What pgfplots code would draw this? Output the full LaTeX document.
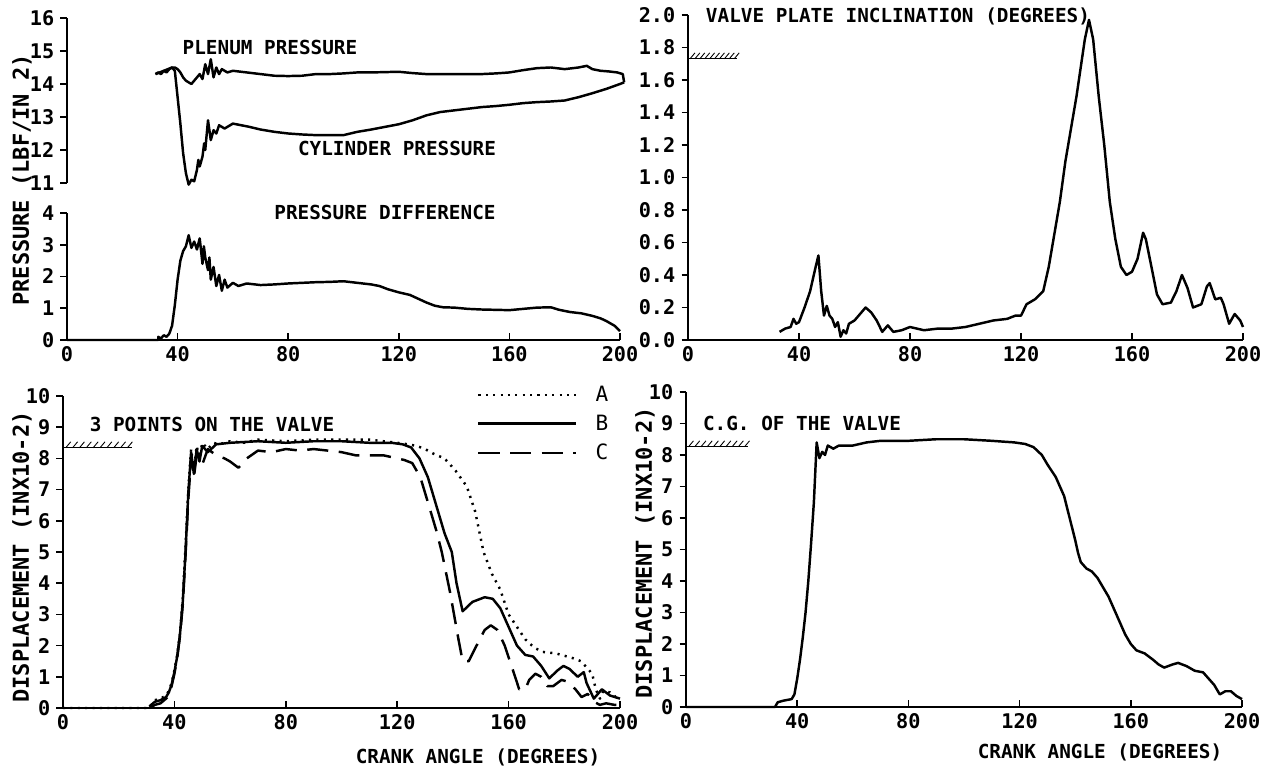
\documentclass[border=0pt]{standalone}
\usepackage{fontspec}
\setmainfont{DejaVu Sans Mono}
\usepackage{pgfplots}
\pgfplotsset{compat=1.18}
\usetikzlibrary{calc}

\pgfplotsset{
  panel/.style={
    scale only axis,
    axis lines=left,
    axis line style={-, line width=1.1pt},
    xmin=0, xmax=200,
    xtick={0,40,...,200},
    tick style={black, line width=1pt},
    major tick length=0.13cm,
    xtick align=inside,
    ytick align=outside,
    tick label style={font=\fontsize{11.5}{12}\selectfont\bfseries},
    /pgf/number format/assume math mode=true,
    clip=false,
  },
  curve/.style={black, line width=1.4pt, line join=round},
}
\newcommand{\lbl}{\fontsize{11}{12}\selectfont\bfseries}
\newcommand{\ylbl}{\fontsize{12.5}{14}\selectfont\bfseries}

\begin{document}
\begin{tikzpicture}
\useasboundingbox (0,0) rectangle (25.34,15.42);

%-- top left, upper: plenum and cylinder pressure
\begin{axis}[panel, at={(1.34cm,11.76cm)}, anchor=south west,
  width=11.06cm, height=3.30cm,
  axis x line=none, ymin=11, ymax=16, ytick={11,...,16}]
\addplot[curve] coordinates {
 (32,14.3)(33,14.35)(34,14.3)(35,14.4)(36,14.35)(37,14.45)(38,14.5)(39,14.5)
 (40,14.45)(41,14.35)(42,14.2)(43,14.1)(44,14.05)(45,14.0)(46,14.1)(47,14.2)
 (48,14.3)(49,14.15)(50,14.6)(51,14.3)(52,14.75)(53,14.2)(54,14.5)(55,14.3)
 (56,14.45)(58,14.35)(60,14.4)(65,14.35)(70,14.3)(75,14.25)(80,14.24)(85,14.25)
 (90,14.3)(95,14.3)(100,14.32)(105,14.35)(110,14.35)(115,14.36)(120,14.37)
 (125,14.33)(130,14.3)(135,14.3)(140,14.3)(145,14.3)(150,14.3)(155,14.32)
 (160,14.35)(165,14.42)(170,14.48)(175,14.5)(180,14.45)(185,14.5)(188,14.55)
 (190,14.45)(193,14.4)(196,14.38)(199,14.35)(201,14.3)(201.5,14.05)
};
\addplot[curve] coordinates {
 (32,14.3)(35,14.4)(38,14.5)(39,14.4)(40,13.6)(41,12.8)(42,11.9)(43,11.3)
 (44,10.95)(45,11.1)(46,11.05)(47,11.4)(47.5,11.7)(48,11.5)(49,11.8)(49.6,12.2)
 (50,12.0)(51,12.9)(52,12.3)(53,12.6)(54,12.5)(55,12.75)(57,12.65)(60,12.8)
 (63,12.75)(66,12.7)(70,12.62)(75,12.55)(80,12.5)(85,12.47)(90,12.45)
 (95,12.45)(100,12.45)(105,12.55)(110,12.62)(115,12.7)(120,12.78)(125,12.9)
 (130,13.05)(135,13.15)(140,13.2)(145,13.25)(150,13.3)(155,13.33)(160,13.37)
 (165,13.42)(170,13.45)(175,13.47)(180,13.5)(185,13.6)(190,13.72)(195,13.85)
 (200,14.0)(201.5,14.05)
};
\end{axis}

%-- top left, lower: pressure difference
\begin{axis}[panel, at={(1.34cm,8.62cm)}, anchor=south west,
  width=11.06cm, height=2.54cm,
  ymin=0, ymax=4, ytick={0,...,4}]
\addplot[curve] coordinates {
 (0,0)(33,0)(33,0.1)(34,0.05)(35,0.15)(36,0.1)(37,0.2)(38,0.45)(39,1.1)
 (40,1.9)(41,2.5)(42,2.8)(43,2.95)(44,3.3)(45,2.9)(46,3.1)(47,2.85)(48,3.2)
 (49,2.4)(49.5,2.95)(50,2.6)(51,2.2)(51.5,2.6)(52,1.9)(53,2.3)(54,1.7)
 (55,2.05)(56,1.55)(57,1.9)(58,1.65)(60,1.8)(62,1.7)(65,1.78)(70,1.73)
 (75,1.75)(80,1.78)(85,1.8)(90,1.82)(95,1.83)(100,1.85)(105,1.8)(110,1.75)
 (113,1.7)(116,1.6)(120,1.5)(124,1.42)(127,1.3)(130,1.18)(133,1.08)
 (136,1.03)(140,1.02)(145,0.98)(150,0.96)(155,0.95)(160,0.94)(165,0.98)
 (170,1.02)(175,1.03)(178,0.95)(182,0.88)(186,0.84)(190,0.76)(193,0.68)
 (195,0.6)(198,0.45)(200,0.28)
};
\end{axis}

%-- top right: valve plate inclination
\begin{axis}[panel, at={(13.76cm,8.62cm)}, anchor=south west,
  width=11.10cm, height=6.50cm,
  ymin=0, ymax=2, ytick={0,0.2,...,2.01},
  yticklabel style={/pgf/number format/.cd, fixed, fixed zerofill, precision=1}]
\addplot[curve] coordinates {
 (33,0.05)(35,0.07)(37,0.08)(38,0.13)(39,0.1)(40,0.11)(42,0.2)(44,0.3)
 (46,0.45)(47,0.52)(48,0.3)(49,0.15)(50,0.21)(51,0.15)(52,0.13)(53,0.08)
 (54,0.11)(55,0.02)(56,0.06)(57,0.04)(58,0.1)(60,0.12)(62,0.16)(64,0.2)
 (66,0.17)(68,0.12)(70,0.05)(72,0.09)(74,0.05)(77,0.06)(80,0.08)(85,0.06)
 (90,0.07)(95,0.07)(100,0.08)(105,0.1)(110,0.12)(115,0.13)(118,0.15)
 (120,0.15)(122,0.22)(125,0.25)(128,0.3)(130,0.45)(132,0.65)(134,0.85)
 (136,1.1)(140,1.5)(143,1.85)(144.5,1.97)(146,1.85)(148,1.5)(150,1.2)
 (152,0.85)(154,0.62)(156,0.45)(158,0.4)(160,0.42)(162,0.5)(164,0.66)
 (165,0.62)(167,0.45)(169,0.28)(171,0.22)(174,0.23)(176,0.3)(178,0.4)
 (180,0.32)(182,0.2)(185,0.22)(187,0.33)(188,0.35)(190,0.25)(192,0.26)
 (193,0.22)(195,0.1)(197,0.16)(199,0.12)(200,0.08)
};
\coordinate (hA) at (axis cs:0,1.73);
\coordinate (hB) at (axis cs:17.7,1.73);
\end{axis}

%-- bottom left: three points on the valve
\begin{axis}[panel, at={(1.26cm,1.26cm)}, anchor=south west,
  width=11.14cm, height=6.24cm,
  ymin=0, ymax=10, ytick={0,...,10},
  legend style={draw=none, fill=none, at={(0.743,1.045)}, anchor=north west,
    font=\fontsize{12}{13}\selectfont, row sep=2.2pt, inner sep=0pt},
  legend cell align=left,
  legend image code/.code={\draw[#1] (0cm,0cm) -- (1.96cm,0cm); \path (2.25cm,0cm);}]
\addplot[curve, dash pattern=on 1.2pt off 3pt] coordinates {
 (0,0)(31,0)(33,0.25)(35,0.3)(37,0.4)(38,0.55)(39,0.8)(40,1.2)(41,1.7)
 (42,2.4)(43,3.5)(44,5.2)(45,7.0)(46,8.3)(47,7.6)(48,8.4)(49,8.0)(50,8.5)
 (52,8.3)(54,8.5)(56,8.45)(60,8.55)(65,8.5)(70,8.6)(80,8.55)(90,8.6)
 (100,8.6)(110,8.6)(115,8.55)(120,8.5)(124,8.45)(127,8.4)(130,8.3)(133,8.15)
 (137,8.0)(141,7.6)(145,7.1)(148,6.3)(151,5.0)(154,4.3)(157,3.8)(160,3.0)
 (163,2.6)(166,2.2)(169,1.95)(172,1.8)(177,1.75)(183,1.6)(186,1.5)(188,1.3)
 (190,1.1)(191.3,0.6)(192.8,0.3)(194,0.55)(196.4,0.5)(198.5,0.35)(200,0.4)
};
\addlegendentry{A}
\addplot[curve] coordinates {
 (31,0.05)(33,0.2)(35,0.25)(37,0.35)(38,0.5)(39,0.75)(40,1.15)(41,1.65)
 (42,2.35)(43,3.4)(44,5.0)(45,6.9)(46,8.2)(47,7.5)(48,8.3)(49,7.9)(50,8.4)
 (52,8.2)(55,8.45)(60,8.5)(70,8.55)(80,8.5)(90,8.55)(100,8.55)(110,8.5)
 (118,8.5)(122,8.45)(125,8.35)(128,8.0)(131,7.4)(134,6.5)(137,5.6)
 (139.6,5.0)(141.3,4.0)(143.5,3.1)(147,3.4)(151.4,3.55)(154.3,3.5)(157,3.2)
 (160,2.6)(163,2.0)(166,1.7)(168.8,1.65)(171.7,1.35)(174.6,0.95)(177.5,1.2)
 (179.7,1.35)(181.9,1.25)(184.8,1.0)(187,1.15)(188,0.8)(190.6,0.3)
 (193.5,0.6)(196.4,0.4)(200,0.3)
};
\addlegendentry{B}
\addplot[curve, dash pattern=on 12pt off 6pt] coordinates {
 (31,0)(33,0.1)(35,0.15)(37,0.3)(38,0.4)(39,0.7)(40,1.1)(41,1.6)(42,2.3)
 (43,3.3)(44,4.9)(45,6.7)(46,8.0)(47,7.4)(48,8.1)(50,7.8)(52,8.3)(55,8.1)
 (58,8.0)(60,7.9)(63,7.7)(66,8.0)(70,8.25)(75,8.2)(80,8.3)(85,8.25)(90,8.3)
 (95,8.25)(100,8.2)(105,8.1)(110,8.1)(115,8.1)(120,8.0)(122.5,7.95)
 (125.4,7.85)(128.3,7.4)(131,6.6)(134,5.7)(136,5.0)(139,3.7)(142,2.2)
 (143.5,1.5)(145.7,1.5)(148.5,2.0)(151.4,2.5)(153.6,2.65)(156,2.5)
 (158.6,2.0)(161.6,1.2)(163.8,0.6)(166,0.6)(167.4,0.9)(169.6,1.1)
 (171.7,1.0)(173.9,0.7)(176,0.7)(179,0.9)(181,0.85)(184,0.6)(186.2,0.35)
 (188.4,0.45)(190.6,0.2)(192.8,0.1)(195,0.15)(198,0.1)(200,0.1)
};
\addlegendentry{C}
\coordinate (hC) at (axis cs:0,8.34);
\coordinate (hD) at (axis cs:24.6,8.34);
\end{axis}

%-- bottom right: C.G. of the valve
\begin{axis}[panel, at={(13.72cm,1.28cm)}, anchor=south west,
  width=11.12cm, height=6.30cm,
  ymin=0, ymax=10, ytick={0,...,10}]
\addplot[curve] coordinates {
 (0,0)(32,0)(33,0.15)(35,0.2)(38,0.25)(39,0.4)(40,0.9)(41,1.5)(42,2.2)
 (43,3.0)(44,4.0)(45,5.2)(46,6.5)(47,8.4)(48,7.9)(49,8.1)(50,8.0)(51,8.3)
 (53,8.2)(55,8.3)(60,8.3)(65,8.4)(70,8.45)(80,8.45)(90,8.5)(100,8.5)
 (110,8.45)(118,8.4)(122,8.35)(125,8.25)(128,8.0)(130,7.7)(133,7.3)
 (136,6.7)(138,6.0)(140,5.3)(141,4.9)(142,4.6)(144,4.4)(146,4.3)(148,4.1)
 (150,3.8)(152,3.5)(154,3.1)(156,2.7)(158,2.3)(160,2.0)(162,1.8)(165,1.7)
 (168,1.5)(170,1.35)(172,1.25)(175,1.35)(177,1.4)(180,1.3)(183,1.15)
 (186,1.1)(188,0.9)(190,0.7)(192,0.4)(194,0.5)(196,0.5)(198,0.35)(200,0.25)
};
\coordinate (hE) at (axis cs:0,8.26);
\coordinate (hF) at (axis cs:22.4,8.26);
\end{axis}

%-- valve stop marks
\foreach \s/\e in {hA/hB,hC/hD,hE/hF}{
  \draw[line width=0.5pt] (\s) -- (\e);
  \foreach \t in {0.04,0.14,...,0.95}
    \draw[line width=0.5pt] ($(\s)!\t!(\e)$) -- ++(0.1,0.12);
}

%-- texts
\node[font=\lbl] at (5.40,14.48) {PLENUM PRESSURE};
\node[font=\lbl] at (7.94,12.46) {CYLINDER PRESSURE};
\node[font=\lbl] at (7.70,11.18) {PRESSURE DIFFERENCE};
\node[font=\lbl] at (17.96,15.10) {VALVE PLATE INCLINATION (DEGREES)};
\node[font=\lbl] at (4.24,6.94) {3 POINTS ON THE VALVE};
\node[font=\lbl] at (16.04,6.96) {C.G. OF THE VALVE};
\node[font=\lbl] at (9.56,0.28) {CRANK ANGLE (DEGREES)};
\node[font=\lbl] at (22.00,0.38) {CRANK ANGLE (DEGREES)};
\node[font=\ylbl, rotate=90] at (0.44,11.82) {PRESSURE (LBF/IN 2)};
\node[font=\ylbl, rotate=90] at (0.44,4.28) {DISPLACEMENT (INX10-2)};
\node[font=\ylbl, rotate=90] at (12.90,4.36) {DISPLACEMENT (INX10-2)};
\end{tikzpicture}
\end{document}
